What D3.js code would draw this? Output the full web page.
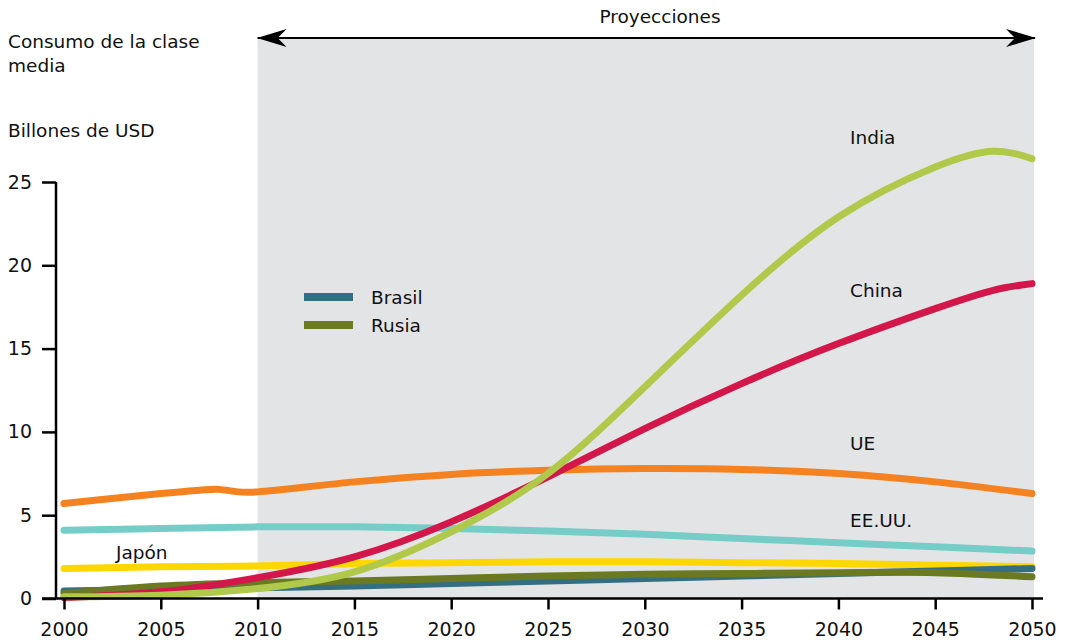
<!DOCTYPE html>
<html>
<head>
<meta charset="utf-8">
<script src="https://cdn.jsdelivr.net/npm/d3@7"></script>
<style>
  body { margin: 0; background: #fff; }
  svg { font-family: "DejaVu Sans", Verdana, sans-serif; }
</style>
</head>
<body>
<svg width="1067" height="642"></svg>
<script>
// Data
const years = [2000, 2005, 2010, 2015, 2020, 2025, 2030, 2035, 2040, 2045, 2048, 2050];
const india = [0.1, 0.2, 0.6, 1.6, 4.0, 7.5, 12.7, 18.2, 22.9, 25.9, 26.85, 26.4];
const china = [0.05, 0.4, 1.25, 2.5, 4.6, 7.3, 10.2, 12.9, 15.3, 17.4, 18.5, 18.9];
const ueYears = [2000, 2005, 2007, 2008, 2009, 2010, 2015, 2020, 2025, 2030, 2035, 2040, 2045, 2050];
const ue = [5.7, 6.3, 6.5, 6.55, 6.4, 6.4, 7.0, 7.45, 7.7, 7.8, 7.75, 7.5, 7.0, 6.3];
const usaYears = [2000, 2005, 2010, 2015, 2020, 2025, 2030, 2035, 2040, 2045, 2050];
const usa = [4.1, 4.2, 4.3, 4.3, 4.2, 4.05, 3.85, 3.6, 3.35, 3.1, 2.85];
const japan = [1.8, 1.9, 1.95, 2.1, 2.15, 2.2, 2.2, 2.15, 2.1, 2.0, 1.9];
const brasil = [0.45, 0.55, 0.65, 0.75, 0.9, 1.05, 1.2, 1.35, 1.5, 1.65, 1.8];
const rusia = [0.3, 0.75, 0.95, 1.05, 1.2, 1.35, 1.45, 1.5, 1.55, 1.55, 1.3];
const xTicks = [2000, 2005, 2010, 2015, 2020, 2025, 2030, 2035, 2040, 2045, 2050];
const yTicks = [0, 5, 10, 15, 20, 25];

const svg = d3.select("svg");

const x = d3.scaleLinear().domain([2000, 2050]).range([64, 1032]);
const y = d3.scaleLinear().domain([0, 25]).range([598.5, 182]);

// projection background
svg.append("rect")
    .attr("x", x(2010))
    .attr("y", 38)
    .attr("width", x(2050) - x(2010) + 2)
    .attr("height", y(0) - 38)
    .attr("fill", "#e3e4e6");

// arrow
const defs = svg.append("defs");
defs.append("marker")
    .attr("id", "arrow")
    .attr("viewBox", "0 0 30 18")
    .attr("refX", 29).attr("refY", 9)
    .attr("markerWidth", 30).attr("markerHeight", 18)
    .attr("markerUnits", "userSpaceOnUse")
    .attr("orient", "auto-start-reverse")
    .append("path")
    .attr("d", "M0,0 L30,9 L0,18 L9,9 Z")
    .attr("fill", "#000");

svg.append("line")
    .attr("x1", x(2010)).attr("x2", x(2050) + 3)
    .attr("y1", 38).attr("y2", 38)
    .attr("stroke", "#000").attr("stroke-width", 2)
    .attr("marker-start", "url(#arrow)")
    .attr("marker-end", "url(#arrow)");

svg.append("text")
    .attr("x", 660).attr("y", 23)
    .attr("text-anchor", "middle")
    .attr("font-size", 18.5)
    .attr("fill", "#111")
    .text("Proyecciones");

// series
const catmull = d3.curveCatmullRom.alpha(0.5);
const series = [
    { yrs: ueYears, vals: ue, color: "#f58220", curve: catmull },
    { yrs: usaYears, vals: usa, color: "#76cdc8", curve: catmull },
    { yrs: usaYears, vals: japan, color: "#ffd700", curve: catmull },
    { yrs: usaYears, vals: brasil, color: "#336e82", curve: catmull },
    { yrs: usaYears, vals: rusia, color: "#6b7a22", curve: catmull },
    { yrs: years, vals: china, color: "#d4174a", curve: d3.curveNatural },
    { yrs: years, vals: india, color: "#b0c94a", curve: d3.curveNatural }
];

series.forEach(s => {
    const line = d3.line()
        .x(d => x(d[0]))
        .y(d => y(d[1]))
        .curve(s.curve);
    svg.append("path")
        .datum(s.yrs.map((yr, i) => [yr, s.vals[i]]))
        .attr("d", line)
        .attr("fill", "none")
        .attr("stroke", s.color)
        .attr("stroke-width", 7)
        .attr("stroke-linecap", "round");
});

// axes
const xAxis = svg.append("g")
    .attr("transform", `translate(0, ${y(0)})`)
    .call(d3.axisBottom(x).tickValues(xTicks).tickFormat(d3.format("d")).tickSize(11).tickSizeOuter(0));
xAxis.select(".domain").attr("d", "M42,0H1043").attr("stroke-width", 2.5);
xAxis.selectAll(".tick line").attr("stroke-width", 2.5);
xAxis.selectAll(".tick text").attr("font-size", 19).attr("y", 24).attr("fill", "#111")
    .attr("font-family", "DejaVu Sans, sans-serif");

const yAxis = svg.append("g")
    .attr("transform", "translate(56, 0)")
    .call(d3.axisLeft(y).tickValues(yTicks).tickSize(14).tickSizeOuter(0));
yAxis.select(".domain").attr("d", `M0,${y(25)}V${y(0)}`).attr("stroke-width", 2.5);
yAxis.selectAll(".tick line").attr("stroke-width", 2.5);
yAxis.selectAll(".tick text").attr("font-size", 19).attr("x", -24).attr("fill", "#111")
    .attr("font-family", "DejaVu Sans, sans-serif");

// axis title
svg.append("text").attr("x", 8).attr("y", 48).attr("font-size", 18.5).attr("fill", "#111").text("Consumo de la clase");
svg.append("text").attr("x", 8).attr("y", 72).attr("font-size", 18.5).attr("fill", "#111").text("media");
svg.append("text").attr("x", 8).attr("y", 137).attr("font-size", 18.5).attr("fill", "#111").text("Billones de USD");

// series labels
const labels = [
    { t: "India", x: 850, v: 27.3 },
    { t: "China", x: 850, v: 18.1 },
    { t: "UE", x: 850, v: 8.9 },
    { t: "EE.UU.", x: 850, v: 4.3 },
    { t: "Japón", x: 116, v: 2.37 }
];
labels.forEach(l => {
    svg.append("text")
        .attr("x", l.x).attr("y", y(l.v))
        .attr("font-size", 18.5)
        .attr("fill", "#111")
        .text(l.t);
});

// legend
const legend = [
    { t: "Brasil", color: "#336e82" },
    { t: "Rusia", color: "#6b7a22" }
];
legend.forEach((l, i) => {
    const ly = 297 + i * 28;
    svg.append("rect").attr("x", 304).attr("y", ly - 4).attr("width", 49).attr("height", 8).attr("fill", l.color);
    svg.append("text").attr("x", 371).attr("y", ly + 6.5).attr("font-size", 18.5).attr("fill", "#111").text(l.t);
});
</script>
</body>
</html>
